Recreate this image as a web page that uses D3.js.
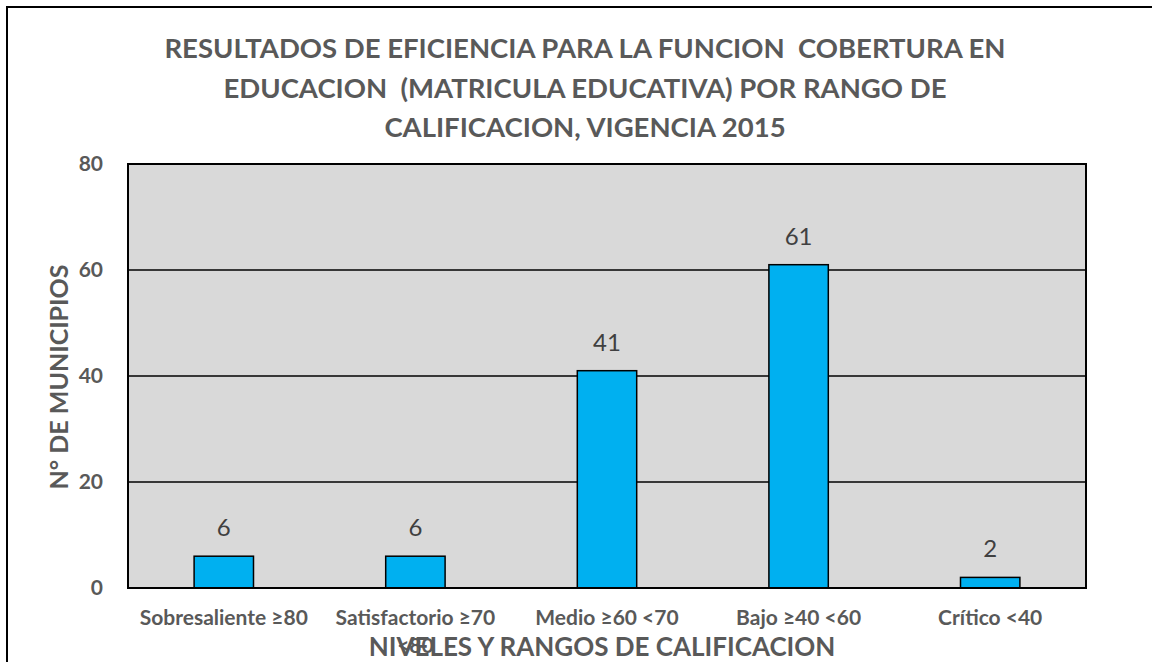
<!DOCTYPE html>
<html>
<head>
<meta charset="utf-8">
<script src="https://cdn.jsdelivr.net/npm/d3@7"></script>
<style>
  body { margin: 0; background: #fff; }
  text { font-family: Lato, "Open Sans", sans-serif; }
</style>
</head>
<body>
<svg width="1152" height="662"></svg>
<script>
// data
const categories = ["Sobresaliente ≥80", "Satisfactorio ≥70 <80", "Medio ≥60 <70", "Bajo ≥40 <60", "Crítico <40"]
const values = [6, 6, 41, 61, 2]
const yTicks = [0, 20, 40, 60, 80]
const titleLines = [
	"RESULTADOS DE EFICIENCIA PARA LA FUNCION  COBERTURA EN",
	"EDUCACION  (MATRICULA EDUCATIVA) POR RANGO DE",
	"CALIFICACION, VIGENCIA 2015"
]

const svg = d3.select("svg"),
	width = +svg.attr("width"),
	height = +svg.attr("height");

const margin = { left: 128, right: 1086, top: 164, bottom: 588 }

// outer frame (runs off the right and bottom edges, as in the original)
svg.append("rect")
	.attr("x", 7).attr("y", 7)
	.attr("width", 1200).attr("height", 700)
	.attr("fill", "none").attr("stroke", "#000").attr("stroke-width", 2)

const x = d3.scaleBand()
	.domain(categories)
	.range([margin.left, margin.right])
	.paddingInner(0.69).paddingOuter(0.345)

const y = d3.scaleLinear()
	.domain([0, 80])
	.range([margin.bottom, margin.top])

// plot area
svg.append("rect")
	.attr("x", margin.left).attr("y", margin.top)
	.attr("width", margin.right - margin.left).attr("height", margin.bottom - margin.top)
	.attr("fill", "#d9d9d9")

// gridlines
svg.append("g")
	.selectAll("line")
	.data(yTicks.filter(d => d > 0 && d < 80))
	.join("line")
	.attr("x1", margin.left).attr("x2", margin.right)
	.attr("y1", d => y(d)).attr("y2", d => y(d))
	.attr("stroke", "#000").attr("stroke-width", 1.5)

// bars
svg.append("g")
	.selectAll("rect")
	.data(values)
	.join("rect")
	.attr("x", (d, i) => x(categories[i]))
	.attr("y", d => y(d))
	.attr("width", x.bandwidth())
	.attr("height", d => y(0) - y(d))
	.attr("fill", "#00b0f0")
	.attr("stroke", "#000").attr("stroke-width", 1.5)

// plot border
svg.append("rect")
	.attr("x", margin.left).attr("y", margin.top)
	.attr("width", margin.right - margin.left).attr("height", margin.bottom - margin.top)
	.attr("fill", "none").attr("stroke", "#000").attr("stroke-width", 2)

// data labels
svg.append("g")
	.selectAll("text")
	.data(values)
	.join("text")
	.attr("x", (d, i) => x(categories[i]) + x.bandwidth() / 2)
	.attr("y", d => y(d) - 20)
	.attr("text-anchor", "middle")
	.attr("font-size", 24)
	.attr("fill", "#404040")
	.text(d => d)

// y axis labels
const yAxis = d3.axisLeft(y).tickValues(yTicks).tickSize(0).tickPadding(25)
const gy = svg.append("g").attr("transform", `translate(${margin.left},0)`).call(yAxis)
gy.select(".domain").remove()
gy.selectAll("text")
	.attr("font-size", 21).attr("font-weight", "bold").attr("fill", "#595959")
	.style("font-family", "Lato, sans-serif")

// x axis labels (wrap the long one like the original)
const gx = svg.append("g")
gx.selectAll("text")
	.data(categories)
	.join("text")
	.attr("x", d => x(d) + x.bandwidth() / 2)
	.attr("y", 625)
	.attr("text-anchor", "middle")
	.attr("font-size", 21).attr("font-weight", "bold").attr("fill", "#595959")
	.each(function (d) {
		const t = d3.select(this)
		const parts = d === "Satisfactorio ≥70 <80" ? ["Satisfactorio ≥70", "<80"] : [d]
		parts.forEach((p, i) => {
			t.append("tspan")
				.attr("x", x(d) + x.bandwidth() / 2)
				.attr("dy", i === 0 ? 0 : 28)
				.text(p)
		})
	})

// axis titles
svg.append("text")
	.attr("x", 602).attr("y", 656)
	.attr("text-anchor", "middle")
	.attr("font-size", 26).attr("font-weight", "bold").attr("fill", "#595959")
	.text("NIVELES Y RANGOS DE CALIFICACION")

svg.append("text")
	.attr("transform", "translate(68,377) rotate(-90)")
	.attr("text-anchor", "middle")
	.attr("font-size", 25).attr("font-weight", "bold").attr("fill", "#595959")
	.text("N° DE MUNICIPIOS")

// title
svg.append("g")
	.selectAll("text")
	.data(titleLines)
	.join("text")
	.attr("x", 585)
	.attr("y", (d, i) => 58 + i * 39.5)
	.attr("text-anchor", "middle")
	.attr("font-size", 27.5).attr("font-weight", "bold").attr("fill", "#595959")
	.style("white-space", "pre")
	.text(d => d)
</script>
</body>
</html>
